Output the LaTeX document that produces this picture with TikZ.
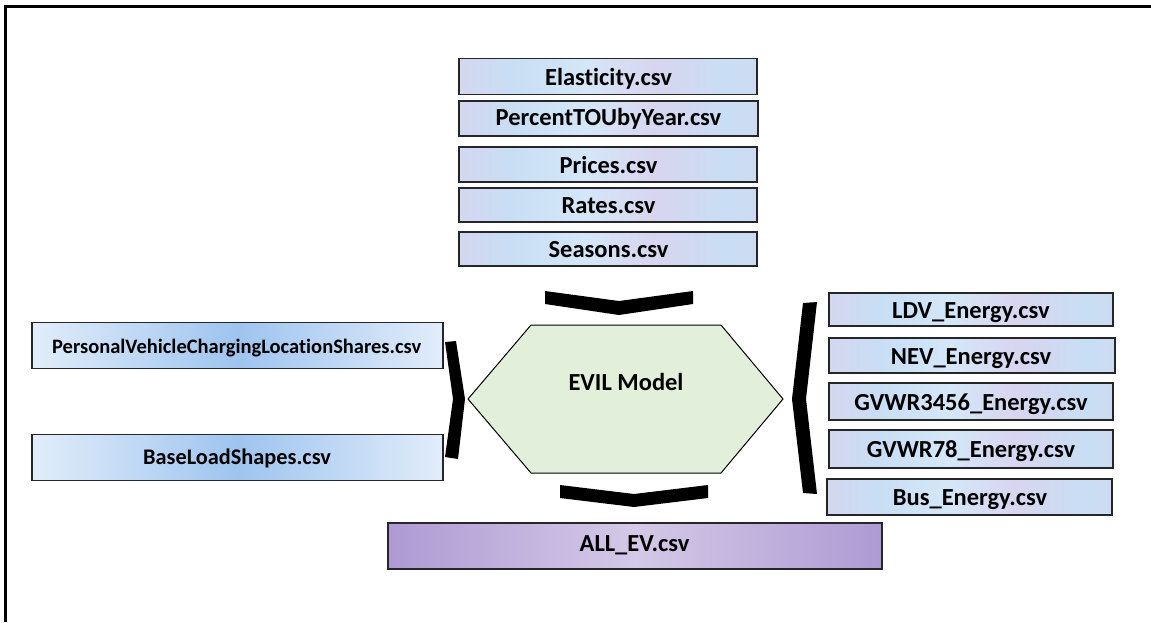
\documentclass[tikz,border=0pt]{standalone}
\usepackage{fontspec}
\setmainfont{Carlito}[Ligatures=NoCommon]
\usetikzlibrary{shapes.geometric}
\definecolor{texA}{HTML}{C8DEF4}
\definecolor{texB}{HTML}{D8D5EF}
\definecolor{texC}{HTML}{D4E7F8}
\definecolor{blueEdge}{HTML}{E2EDFA}
\definecolor{blueMid}{HTML}{9EC4EF}
\definecolor{purEdge}{HTML}{AE9AD3}
\definecolor{purMid}{HTML}{D4C9E7}
\definecolor{hexFill}{HTML}{E2EFDA}
\pgfdeclarehorizontalshading{bouquet}{100bp}{color(0bp)=(texC); color(10bp)=(texA); color(22bp)=(texB); color(34bp)=(texA); color(46bp)=(texC); color(58bp)=(texB); color(70bp)=(texA); color(84bp)=(texB); color(100bp)=(texC)}
\tikzset{
  filebox/.style={draw=black!85, line width=1.2pt, inner sep=0pt, shading=bouquet},
  bluebox/.style={draw=black!85, line width=1.2pt, inner sep=0pt, left color=blueEdge, right color=blueEdge, middle color=blueMid},
  purbox/.style={draw=black!85, line width=1.5pt, inner sep=0pt, left color=purEdge, right color=purEdge, middle color=purMid},
  lbl/.style={font=\bfseries\fontsize{24.5}{26}\selectfont, inner sep=0pt, text height=15.8pt, text depth=0pt},
  plbl/.style={font=\bfseries\fontsize{20.5}{22}\selectfont, inner sep=0pt, text height=13.2pt, text depth=0pt},
  blbl/.style={font=\bfseries\fontsize{22.3}{24}\selectfont, inner sep=0pt, text height=14.4pt, text depth=0pt},
  chev/.style={fill=black, draw=none},
}
\begin{document}
\begin{tikzpicture}[x=1pt,y=-1pt]
\useasboundingbox (0,0) rectangle (1151,622);
% frame
\draw[line width=3pt] (1151,6) -- (5,6) -- (5,622);

% top inputs
\node[filebox, minimum width=298pt, minimum height=36pt] (elas) at (608,76.5) {};
\node[lbl] at (608.5,77.5) {Elasticity.csv};
\node[filebox, minimum width=299pt, minimum height=35pt] (ptou) at (608.5,118.5) {};
\node[lbl] at (608.5,117.5) {PercentTOUbyYear.csv};
\node[filebox, minimum width=298pt, minimum height=35pt] (pric) at (608,164.5) {};
\node[lbl] at (608.5,165.5) {Prices.csv};
\node[filebox, minimum width=298pt, minimum height=34pt] (rate) at (608,205) {};
\node[lbl] at (608.5,206) {Rates.csv};
\node[filebox, minimum width=298pt, minimum height=34pt] (seas) at (608,249) {};
\node[lbl] at (608.5,250) {Seasons.csv};

% left inputs
\node[bluebox, minimum width=411pt, minimum height=46pt] (pvcl) at (237.5,345.5) {};
\node[plbl] at (236.7,346.5) {PersonalVehicleChargingLocationShares.csv};
\node[bluebox, minimum width=411pt, minimum height=46pt] (bls) at (237.5,457.5) {};
\node[blbl] at (237,457) {BaseLoadShapes.csv};

% right inputs
\node[filebox, minimum width=284pt, minimum height=33pt] (ldv) at (971,309.5) {};
\node[lbl] at (971,311) {LDV\_Energy.csv};
\node[filebox, minimum width=286pt, minimum height=35pt] (nev) at (972,355.5) {};
\node[lbl] at (971,356.5) {NEV\_Energy.csv};
\node[filebox, minimum width=284pt, minimum height=37pt] (g36) at (971,401.5) {};
\node[lbl] at (971,402.5) {GVWR3456\_Energy.csv};
\node[filebox, minimum width=284pt, minimum height=38pt] (g78) at (971,449) {};
\node[lbl] at (971,449.5) {GVWR78\_Energy.csv};
\node[filebox, minimum width=285pt, minimum height=36pt] (bus) at (969.5,497) {};
\node[lbl] at (970,497.5) {Bus\_Energy.csv};

% output
\node[purbox, minimum width=494pt, minimum height=46pt] (allev) at (635,546) {};
\node[lbl] at (634.5,544) {ALL\_EV.csv};

% model hexagon
\draw[fill=hexFill, draw=black, line width=1pt] (468,399) -- (531,325) -- (721,325) -- (783,399) -- (721,473) -- (531,473) -- cycle;
\node[lbl] (model) at (626,383) {EVIL Model};

% chevrons
\fill[chev] (545,291) -- (619,301) -- (693,291) -- (693,304) -- (619,315) -- (545,304) -- cycle;
\fill[chev] (560,485) -- (634,494) -- (708,485) -- (708,498) -- (634,507) -- (560,498) -- cycle;
\fill[chev] (445,342) -- (456,341) -- (465,399) -- (458,459) -- (445,457) -- (453,399) -- cycle;
\fill[chev] (803,303) -- (817,302) -- (806,399) -- (817,494) -- (803,493) -- (792,399) -- cycle;
\end{tikzpicture}
\end{document}
